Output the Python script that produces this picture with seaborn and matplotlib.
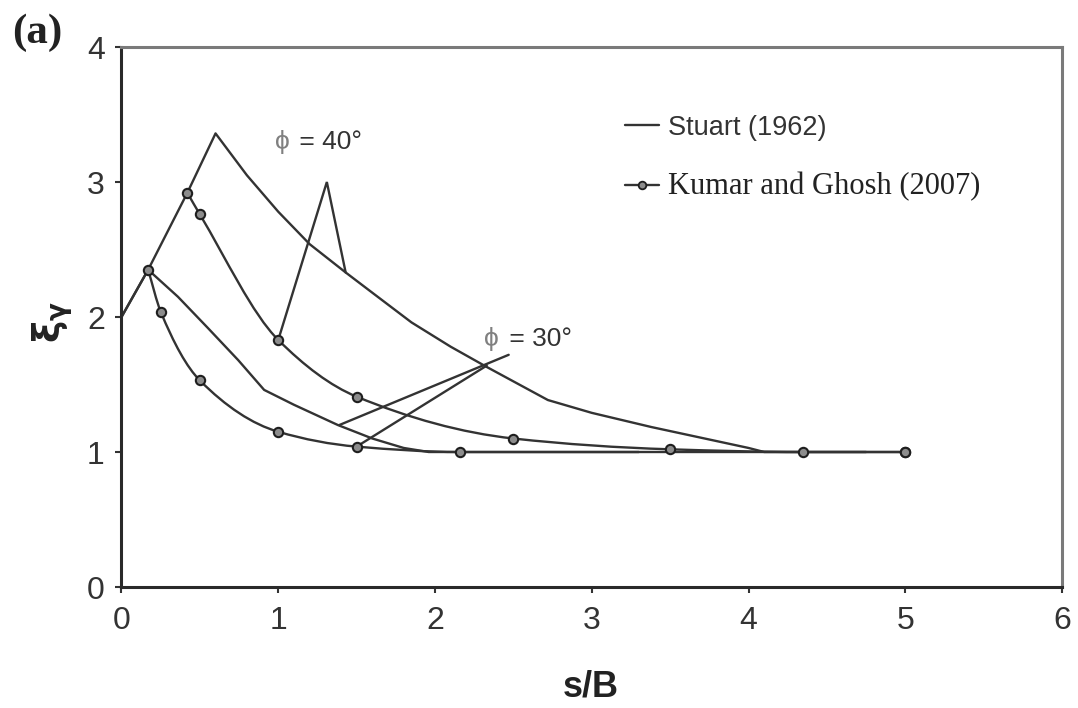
import numpy as np
import pandas as pd
import matplotlib
matplotlib.use("Agg")
import matplotlib.pyplot as plt
from matplotlib.path import Path
from matplotlib.patches import PathPatch
from matplotlib.lines import Line2D
import seaborn as sns

# Stuart (1962) theoretical curves
stuart40_x = [0.0, 0.17, 0.42, 0.6, 0.8, 1.0, 1.2, 1.43, 1.6, 1.85, 2.1, 2.33, 2.72, 3.0, 3.38, 3.7, 4.0, 4.1, 4.75]
stuart40_y = [2.0, 2.35, 2.92, 3.36, 3.05, 2.78, 2.54, 2.33, 2.18, 1.96, 1.78, 1.63, 1.385, 1.29, 1.185, 1.105, 1.03, 1.0, 1.0]
stuart30_x = [0.0, 0.17, 0.36, 0.55, 0.745, 0.91, 1.1, 1.38, 1.6, 1.8, 1.96, 3.3]
stuart30_y = [2.0, 2.35, 2.15, 1.92, 1.68, 1.46, 1.35, 1.2, 1.1, 1.03, 1.0, 1.0]

# Kumar and Ghosh (2007) results
kumar40_x = [0.42, 0.5, 1.0, 1.5, 2.5, 3.5, 4.35, 5.0]
kumar40_y = [2.92, 2.76, 1.83, 1.41, 1.10, 1.02, 1.0, 1.0]
kumar30_x = [0.17, 0.25, 0.5, 1.0, 1.5, 2.16, 5.0]
kumar30_y = [2.35, 2.04, 1.53, 1.15, 1.04, 1.0, 1.0]

x_ticks = [0, 1, 2, 3, 4, 5, 6]
y_ticks = [0, 1, 2, 3, 4]

# leader lines for the friction-angle labels
lead40_x = [1.0, 1.31, 1.43]
lead40_y = [1.83, 3.0, 2.33]
lead30a_x = [1.39, 2.47]
lead30a_y = [1.2, 1.72]
lead30b_x = [1.5, 2.33]
lead30b_y = [1.04, 1.64]

INK = "#333333"
LW = 1.7

sns.set_theme(style="ticks")
plt.rcParams["font.family"] = ["Liberation Sans", "DejaVu Sans"]
plt.rcParams["mathtext.fontset"] = "dejavusans"


def smooth_path(x, y):
    """Monotone cubic (PCHIP-style) Hermite curve through the points, as Bezier segments."""
    x = np.asarray(x, float)
    y = np.asarray(y, float)
    h = np.diff(x)
    d = np.diff(y) / h
    n = len(x)
    m = np.zeros(n)
    m[0], m[-1] = d[0], d[-1]
    for i in range(1, n - 1):
        if d[i - 1] * d[i] <= 0:
            m[i] = 0.0
        else:
            w1 = 2 * h[i] + h[i - 1]
            w2 = h[i] + 2 * h[i - 1]
            m[i] = (w1 + w2) / (w1 / d[i - 1] + w2 / d[i])
    verts = [(x[0], y[0])]
    codes = [Path.MOVETO]
    for i in range(n - 1):
        verts += [(x[i] + h[i] / 3, y[i] + m[i] * h[i] / 3),
                  (x[i + 1] - h[i] / 3, y[i + 1] - m[i + 1] * h[i] / 3),
                  (x[i + 1], y[i + 1])]
        codes += [Path.CURVE4] * 3
    return Path(verts, codes)


fig = plt.figure(figsize=(10.78, 7.08), dpi=100)
ax = fig.add_axes([0.1127, 0.1709, 0.8725, 0.7627])

stuart = pd.concat([
    pd.DataFrame({"s/B": stuart40_x, "xi": stuart40_y, "phi": "40"}),
    pd.DataFrame({"s/B": stuart30_x, "xi": stuart30_y, "phi": "30"}),
])
sns.lineplot(data=stuart, x="s/B", y="xi", units="phi", estimator=None, sort=False,
             color=INK, lw=LW, ax=ax, legend=False)

kumar = pd.concat([
    pd.DataFrame({"s/B": kumar40_x, "xi": kumar40_y, "phi": "40"}),
    pd.DataFrame({"s/B": kumar30_x, "xi": kumar30_y, "phi": "30"}),
])
for kx, ky in [(kumar40_x, kumar40_y), (kumar30_x, kumar30_y)]:
    ax.add_patch(PathPatch(smooth_path(kx, ky), facecolor="none", edgecolor=INK,
                           lw=LW, zorder=3))
sns.scatterplot(data=kumar, x="s/B", y="xi", marker="o", s=45, color="#8c8c8c",
                edgecolor="#1e1e1e", linewidth=1.5, zorder=4, ax=ax, legend=False)

for lx, ly in [(lead40_x, lead40_y), (lead30a_x, lead30a_y), (lead30b_x, lead30b_y)]:
    ax.plot(lx, ly, color=INK, lw=LW, solid_joinstyle="miter")

for tx, ty, angle in [(0.98, 3.30, "40"), (2.315, 1.84, "30")]:
    ax.text(tx, ty, "ϕ", fontsize=19, color="#808080", va="center", ha="left")
    ax.text(tx + 0.11, ty, f" = {angle}°", fontsize=19, color=INK, va="center", ha="left")

ax.set_xlim(0, 6)
ax.set_ylim(0, 4)
ax.set_xticks(x_ticks)
ax.set_yticks(y_ticks)
ax.tick_params(direction="out", length=4, width=1.5, colors=INK, labelsize=23)
ax.tick_params(axis="x", pad=10)
ax.tick_params(axis="y", pad=8)

for side in ["left", "bottom"]:
    ax.spines[side].set_color("#2a2a2a")
    ax.spines[side].set_linewidth(2.2)
for side in ["top", "right"]:
    ax.spines[side].set_visible(True)
    ax.spines[side].set_color("#7a7a7a")
    ax.spines[side].set_linewidth(2.2)

ax.set_xlabel("s/B", fontsize=26, fontweight="bold", color="#222222")
ax.xaxis.set_label_coords(0.499, -0.152)
ax.set_ylabel(r"$\mathbf{\xi}_{\mathbf{\gamma}}$", fontsize=27, color="#222222")
ax.yaxis.set_label_coords(-0.049, 0.49)

handles = [
    Line2D([], [], color=INK, lw=LW),
    Line2D([], [], color=INK, lw=LW, marker="o", ms=5.5, mfc="#8c8c8c", mec="#1e1e1e", mew=1.3),
]
leg = ax.legend(handles, ["Stuart (1962)", "Kumar and Ghosh (2007)"], loc="upper left",
                bbox_to_anchor=(0.535, 0.874), frameon=False, fontsize=20,
                handlelength=1.25, handletextpad=0.3, labelspacing=1.12,
                borderpad=0, borderaxespad=0)
t_stuart, t_kumar = leg.get_texts()
t_stuart.set_fontsize(19.5)
t_stuart.set_color(INK)
t_kumar.set_family(["Liberation Serif", "DejaVu Serif"])
t_kumar.set_fontsize(22)
t_kumar.set_color("#222222")

fig.text(0.011, 0.981, "(a)", fontsize=31, fontweight="bold", va="top", ha="left",
         family=["Liberation Serif", "DejaVu Serif"], color="#222222")

fig.savefig("out.png", dpi=100)
